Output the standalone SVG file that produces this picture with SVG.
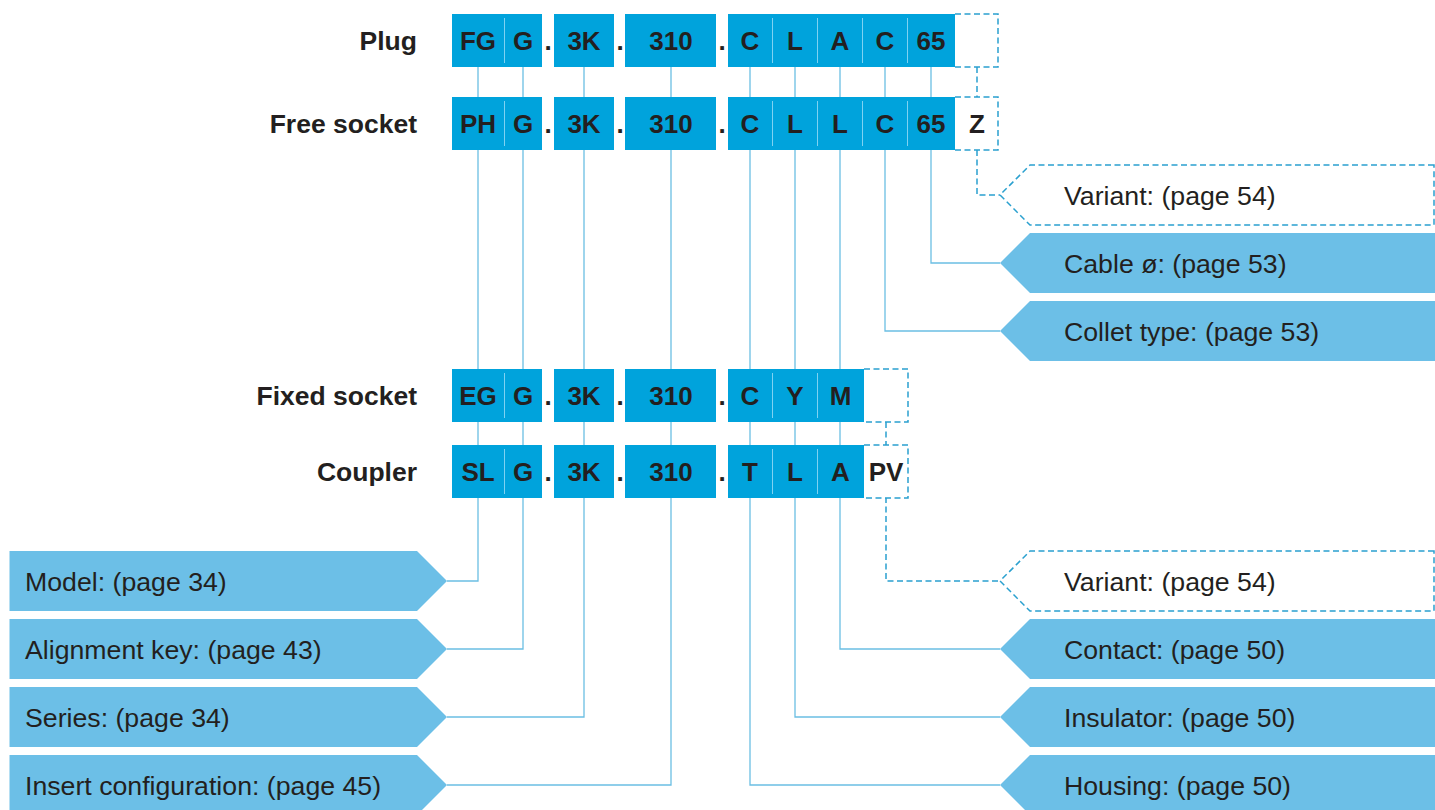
<svg xmlns="http://www.w3.org/2000/svg" width="1435" height="810" viewBox="0 0 1435 810">
<style>
.bg{fill:#ffffff}
.cell{fill:#00a3dc}
.div{stroke:#7fd2f2;stroke-width:1}
.ct{font-family:"Liberation Sans",Arial,sans-serif;font-weight:bold;font-size:26px;fill:#231f20;text-anchor:middle}
.rl{font-family:"Liberation Sans",Arial,sans-serif;font-weight:bold;font-size:26.5px;fill:#231f20;text-anchor:end}
.lbl{fill:#6cbfe7}
.lt{font-family:"Liberation Sans",Arial,sans-serif;font-size:26.7px;fill:#231f20}
.con{fill:none;stroke:#6bbfe3;stroke-width:1.3}
.dash{fill:none;stroke:#2aa0cf;stroke-width:1.5;stroke-dasharray:6 3.5}
.dashbox{fill:#ffffff;stroke:#2aa0cf;stroke-width:1.5;stroke-dasharray:6 3.5}
</style>
<rect class="bg" x="0" y="0" width="1435" height="810"/>

<g id="connectors">
  <polyline class="con" points="478,40 478,581 447,581"/>
  <polyline class="con" points="523,40 523,649 447,649"/>
  <polyline class="con" points="584,40 584,717 447,717"/>
  <polyline class="con" points="671,40 671,785 447,785"/>
  <polyline class="con" points="750,40 750,785 1000,785"/>
  <polyline class="con" points="795,40 795,717 1000,717"/>
  <polyline class="con" points="840,40 840,649 1000,649"/>
  <polyline class="con" points="885,40 885,331 1000,331"/>
  <polyline class="con" points="931,40 931,263 1000,263"/>
  <polyline class="dash" points="977,67 977,97"/>
  <polyline class="dash" points="977,150 977,195 1000,195"/>
  <polyline class="dash" points="886,422 886,445"/>
  <polyline class="dash" points="886,497 886,581 1000,581"/>
</g>

<g id="plug">
  <text class="rl" x="417" y="50">Plug</text>
  <rect class="cell" x="452" y="14" width="90" height="53"/>
  <rect class="cell" x="554" y="14" width="60" height="53"/>
  <rect class="cell" x="625" y="14" width="91" height="53"/>
  <rect class="cell" x="728" y="14" width="227" height="53"/>
  <path class="dashbox" d="M955,14 H998 V67 H955"/>
  <line class="div" x1="504.5" y1="18" x2="504.5" y2="63"/>
  <line class="div" x1="772.5" y1="18" x2="772.5" y2="63"/>
  <line class="div" x1="817.5" y1="18" x2="817.5" y2="63"/>
  <line class="div" x1="862.5" y1="18" x2="862.5" y2="63"/>
  <line class="div" x1="907.5" y1="18" x2="907.5" y2="63"/>
  <text class="ct" x="478" y="50">FG</text>
  <text class="ct" x="523" y="50">G</text>
  <text class="ct" x="548" y="50">.</text>
  <text class="ct" x="584" y="50">3K</text>
  <text class="ct" x="620" y="50">.</text>
  <text class="ct" x="671" y="50">310</text>
  <text class="ct" x="722" y="50">.</text>
  <text class="ct" x="750" y="50">C</text>
  <text class="ct" x="795" y="50">L</text>
  <text class="ct" x="840" y="50">A</text>
  <text class="ct" x="885" y="50">C</text>
  <text class="ct" x="931" y="50">65</text>
</g>

<g id="free-socket">
  <text class="rl" x="417" y="133">Free socket</text>
  <rect class="cell" x="452" y="97" width="90" height="53"/>
  <rect class="cell" x="554" y="97" width="60" height="53"/>
  <rect class="cell" x="625" y="97" width="91" height="53"/>
  <rect class="cell" x="728" y="97" width="227" height="53"/>
  <path class="dashbox" d="M955,97 H998 V150 H955"/>
  <line class="div" x1="504.5" y1="101" x2="504.5" y2="146"/>
  <line class="div" x1="772.5" y1="101" x2="772.5" y2="146"/>
  <line class="div" x1="817.5" y1="101" x2="817.5" y2="146"/>
  <line class="div" x1="862.5" y1="101" x2="862.5" y2="146"/>
  <line class="div" x1="907.5" y1="101" x2="907.5" y2="146"/>
  <text class="ct" x="478" y="133">PH</text>
  <text class="ct" x="523" y="133">G</text>
  <text class="ct" x="548" y="133">.</text>
  <text class="ct" x="584" y="133">3K</text>
  <text class="ct" x="620" y="133">.</text>
  <text class="ct" x="671" y="133">310</text>
  <text class="ct" x="722" y="133">.</text>
  <text class="ct" x="750" y="133">C</text>
  <text class="ct" x="795" y="133">L</text>
  <text class="ct" x="840" y="133">L</text>
  <text class="ct" x="885" y="133">C</text>
  <text class="ct" x="931" y="133">65</text>
  <text class="ct" x="977" y="133">Z</text>
</g>

<g id="fixed-socket">
  <text class="rl" x="417" y="405">Fixed socket</text>
  <rect class="cell" x="452" y="369" width="90" height="53"/>
  <rect class="cell" x="554" y="369" width="60" height="53"/>
  <rect class="cell" x="625" y="369" width="91" height="53"/>
  <rect class="cell" x="728" y="369" width="136" height="53"/>
  <path class="dashbox" d="M864,369 H908 V422 H864"/>
  <line class="div" x1="504.5" y1="373" x2="504.5" y2="418"/>
  <line class="div" x1="772.5" y1="373" x2="772.5" y2="418"/>
  <line class="div" x1="817.5" y1="373" x2="817.5" y2="418"/>
  <text class="ct" x="478" y="405">EG</text>
  <text class="ct" x="523" y="405">G</text>
  <text class="ct" x="548" y="405">.</text>
  <text class="ct" x="584" y="405">3K</text>
  <text class="ct" x="620" y="405">.</text>
  <text class="ct" x="671" y="405">310</text>
  <text class="ct" x="722" y="405">.</text>
  <text class="ct" x="750" y="405">C</text>
  <text class="ct" x="795" y="405">Y</text>
  <text class="ct" x="840.5" y="405">M</text>
</g>

<g id="coupler">
  <text class="rl" x="417" y="481">Coupler</text>
  <rect class="cell" x="452" y="445" width="90" height="53"/>
  <rect class="cell" x="554" y="445" width="60" height="53"/>
  <rect class="cell" x="625" y="445" width="91" height="53"/>
  <rect class="cell" x="728" y="445" width="136" height="53"/>
  <path class="dashbox" d="M864,445 H908 V498 H864"/>
  <line class="div" x1="504.5" y1="449" x2="504.5" y2="494"/>
  <line class="div" x1="772.5" y1="449" x2="772.5" y2="494"/>
  <line class="div" x1="817.5" y1="449" x2="817.5" y2="494"/>
  <text class="ct" x="478" y="481">SL</text>
  <text class="ct" x="523" y="481">G</text>
  <text class="ct" x="548" y="481">.</text>
  <text class="ct" x="584" y="481">3K</text>
  <text class="ct" x="620" y="481">.</text>
  <text class="ct" x="671" y="481">310</text>
  <text class="ct" x="722" y="481">.</text>
  <text class="ct" x="750" y="481">T</text>
  <text class="ct" x="795" y="481">L</text>
  <text class="ct" x="840.5" y="481">A</text>
  <text class="ct" x="886" y="481">PV</text>
</g>

<g id="variant-top">
  <path class="dashbox" d="M1434,165 H1030 L1000,195 L1030,225 H1434 Z"/>
  <text class="lt" x="1064" y="204.5">Variant: (page 54)</text>
</g>
<g id="cable">
  <path class="lbl" d="M1440,233 H1030 L1000,263 L1030,293 H1440 Z"/>
  <text class="lt" x="1064" y="272.5">Cable ø: (page 53)</text>
</g>
<g id="collet">
  <path class="lbl" d="M1440,301 H1030 L1000,331 L1030,361 H1440 Z"/>
  <text class="lt" x="1064" y="340.5">Collet type: (page 53)</text>
</g>
<g id="variant-bottom">
  <path class="dashbox" d="M1434,551 H1030 L1000,581 L1030,611 H1434 Z"/>
  <text class="lt" x="1064" y="590.5">Variant: (page 54)</text>
</g>
<g id="contact">
  <path class="lbl" d="M1440,619 H1030 L1000,649 L1030,679 H1440 Z"/>
  <text class="lt" x="1064" y="658.5">Contact: (page 50)</text>
</g>
<g id="insulator">
  <path class="lbl" d="M1440,687 H1030 L1000,717 L1030,747 H1440 Z"/>
  <text class="lt" x="1064" y="726.5">Insulator: (page 50)</text>
</g>
<g id="housing">
  <path class="lbl" d="M1440,755 H1030 L1000,785 L1030,815 H1440 Z"/>
  <text class="lt" x="1064" y="794.5">Housing: (page 50)</text>
</g>

<g id="model">
  <path class="lbl" d="M9.5,551 H417 L447,581 L417,611 H9.5 Z"/>
  <text class="lt" x="25" y="590.5">Model: (page 34)</text>
</g>
<g id="alignment-key">
  <path class="lbl" d="M9.5,619 H417 L447,649 L417,679 H9.5 Z"/>
  <text class="lt" x="25" y="658.5">Alignment key: (page 43)</text>
</g>
<g id="series">
  <path class="lbl" d="M9.5,687 H417 L447,717 L417,747 H9.5 Z"/>
  <text class="lt" x="25" y="726.5">Series: (page 34)</text>
</g>
<g id="insert-configuration">
  <path class="lbl" d="M9.5,755 H417 L447,785 L417,815 H9.5 Z"/>
  <text class="lt" x="25" y="794.5">Insert configuration: (page 45)</text>
</g>
</svg>
